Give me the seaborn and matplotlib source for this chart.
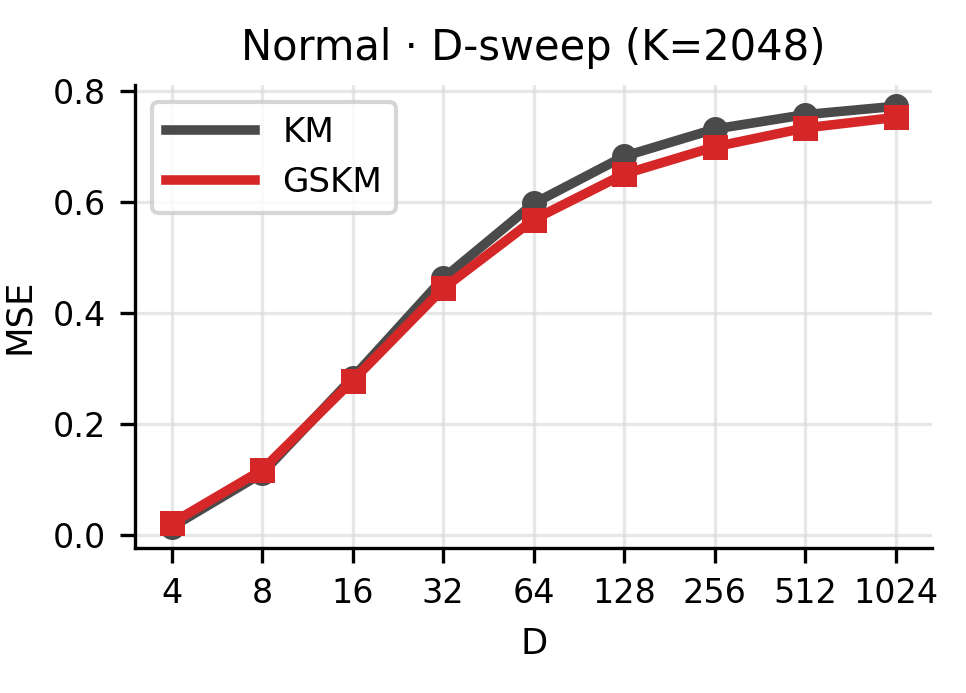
import numpy as np
import pandas as pd
import seaborn as sns
from matplotlib import pyplot as plt

# values
dims = [4, 8, 16, 32, 64, 128, 256, 512, 1024]
km_mse = [0.015, 0.112, 0.284, 0.463, 0.598, 0.683, 0.732, 0.758, 0.773]
gskm_mse = [0.022, 0.118, 0.279, 0.445, 0.569, 0.651, 0.700, 0.734, 0.753]

df = pd.DataFrame({
    "D": dims * 2,
    "MSE": km_mse + gskm_mse,
    "method": ["KM"] * len(dims) + ["GSKM"] * len(dims),
})

sns.set_style("ticks")
plt.rcParams["font.family"] = ["DejaVu Sans"]
plt.rcParams.update({
    "text.color": "black", "axes.labelcolor": "black", "axes.edgecolor": "black",
    "xtick.color": "black", "ytick.color": "black",
    "lines.solid_capstyle": "projecting",
})

fig, ax = plt.subplots(figsize=(3.223, 2.31), dpi=300)
fig.subplots_adjust(left=0.14, right=0.964, bottom=0.209, top=0.877)

palette = {"KM": "#4a4a4a", "GSKM": "#d62728"}
markers = {"KM": "o", "GSKM": "s"}
for m in ["KM", "GSKM"]:
    sub = df[df["method"] == m]
    sns.lineplot(data=sub, x="D", y="MSE", color=palette[m], marker=markers[m],
                 markersize=6, markeredgewidth=0, linewidth=2.3, label=m, ax=ax)

ax.set_xscale("log", base=2)
ax.set_xticks(dims)
ax.set_xticklabels([str(d) for d in dims])
ax.minorticks_off()
ax.set_yticks([0.0, 0.2, 0.4, 0.6, 0.8])
ax.grid(True, color="#dddddd", alpha=0.7, linewidth=0.8)
ax.tick_params(labelsize=8, length=3.5, width=0.8)
ax.set_xlabel("D", fontsize=8.5)
ax.set_ylabel("MSE", fontsize=8.5)
ax.set_title("Normal · D-sweep (K=2048)", fontsize=10)
for s in ["left", "bottom"]:
    ax.spines[s].set_linewidth(0.8)
sns.despine(ax=ax)

leg = ax.legend(loc="upper left", fontsize=8.2, frameon=True, handlelength=2.6)
for h in leg.legend_handles:
    h.set_marker("")

fig.savefig("out.png", dpi=300)
